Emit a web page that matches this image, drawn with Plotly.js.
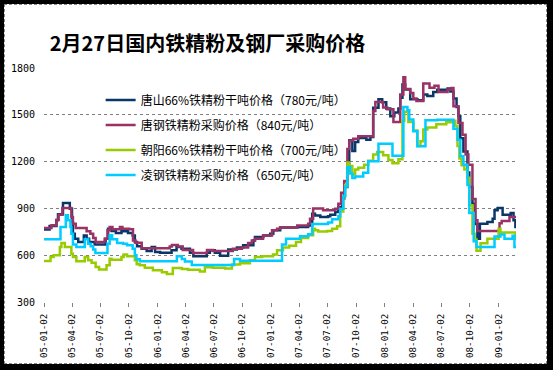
<!DOCTYPE html>
<html>
<head>
<meta charset="utf-8">
<script src="https://cdn.plot.ly/plotly-3.0.1.min.js"></script>
<style>
  html, body { margin: 0; padding: 0; background: #000; width: 553px; height: 370px; overflow: hidden; }
  #frame { position: absolute; left: 4px; top: 4px; width: 543px; height: 360px; background: #fff; border: 1px dashed #888; box-sizing: border-box; }
  #chart { position: absolute; left: 0; top: 0; width: 553px; height: 370px; }
</style>
</head>
<body>
<div id="frame"></div>
<div id="chart"></div>
<script>
// ---- data ----
const chartTitle = '2月27日国内铁精粉及钢厂采购价格';
const seriesNames = [
  '唐山66%铁精粉干吨价格（780元/吨）',
  '唐钢铁精粉采购价格（840元/吨）',
  '朝阳66%铁精粉干吨价格（700元/吨）',
  '凌钢铁精粉采购价格（650元/吨）'
];
const tickDates = ['2005-01-02','2005-04-02','2005-07-02','2005-10-02','2006-01-02','2006-04-02','2006-07-02','2006-10-02',
  '2007-01-02','2007-04-02','2007-07-02','2007-10-02','2008-01-02','2008-04-02','2008-07-02','2008-10-02','2009-01-02'];
const yTicks = [300, 600, 900, 1200, 1500, 1800];

const tangshanDates = ['2005-01-02','2005-01-20','2005-02-11','2005-02-16','2005-03-04','2005-03-26','2005-04-02','2005-04-05','2005-04-11','2005-04-22',
  '2005-05-10','2005-05-19','2005-05-27','2005-06-14','2005-07-19','2005-07-27','2005-08-07','2005-08-21','2005-09-08','2005-09-13',
  '2005-09-29','2005-10-14','2005-10-21','2005-10-28','2005-11-12','2005-11-28','2005-12-14','2005-12-25','2006-01-10','2006-02-16',
  '2006-03-04','2006-03-20','2006-04-16','2006-04-27','2006-06-09','2006-06-19','2006-07-05','2006-07-22','2006-08-17','2006-09-14',
  '2006-10-04','2006-11-06','2006-11-11','2006-12-08','2006-12-30','2007-01-09','2007-01-31','2007-03-27','2007-05-01','2007-05-14',
  '2007-05-23','2007-06-09','2007-07-04','2007-07-11','2007-07-27','2007-08-06','2007-08-19','2007-08-25','2007-09-04','2007-09-10',
  '2007-09-20','2007-09-29','2007-10-09','2007-11-04','2007-11-17','2007-11-26','2007-12-13','2007-12-25','2008-01-07','2008-01-20',
  '2008-02-02','2008-02-15','2008-02-21','2008-02-28','2008-03-08','2008-03-24','2008-04-16','2008-05-05','2008-05-18','2008-06-06',
  '2008-06-19','2008-07-22','2008-07-31','2008-08-10','2008-08-20','2008-08-26','2008-09-01','2008-09-11','2008-09-24','2008-09-30',
  '2008-10-10','2008-10-17','2008-10-26','2008-11-03','2008-11-27','2008-12-14','2008-12-20','2008-12-30','2009-01-15','2009-02-10',
  '2009-02-19','2009-02-25','2009-02-27'];
const tangshanVals = [764,787,824,862,935,898,813,738,706,685,
  727,706,685,668,706,770,755,742,760,753,
  742,727,685,657,642,627,653,620,616,631,
  653,642,616,594,616,631,616,597,636,650,
  663,695,717,727,738,760,777,781,791,866,
  855,845,850,860,877,909,963,1037,1187,1337,
  1268,1325,1352,1340,1358,1545,1600,1580,1540,1490,
  1515,1540,1610,1695,1662,1600,1593,1630,1621,1646,
  1660,1668,1650,1604,1550,1490,1350,1265,1130,1037,
  930,800,706,802,813,834,888,903,860,870,
  824,781,781];

const tanggangDates = ['2005-01-02','2005-01-26','2005-02-11','2005-02-18','2005-03-02','2005-03-31','2005-04-05','2005-04-14','2005-05-19','2005-05-31',
  '2005-06-09','2005-06-17','2005-07-16','2005-07-25','2005-08-01','2005-08-10','2005-09-03','2005-09-11','2005-10-03','2005-10-15',
  '2005-10-23','2005-11-12','2006-02-10','2006-02-17','2006-03-08','2006-03-24','2006-04-26','2006-06-10','2006-06-29','2006-09-01',
  '2006-09-30','2006-10-20','2006-11-01','2006-11-11','2006-12-07','2007-01-05','2007-01-21','2007-01-31','2007-03-27','2007-05-01',
  '2007-05-07','2007-05-17','2007-06-18','2007-07-27','2007-08-06','2007-08-15','2007-08-25','2007-09-04','2007-09-10','2007-09-23',
  '2007-10-09','2007-11-26','2007-12-03','2007-12-28','2008-01-10','2008-01-30','2008-02-21','2008-03-02','2008-03-08','2008-03-24',
  '2008-04-03','2008-04-13','2008-05-05','2008-05-25','2008-06-10','2008-06-23','2008-07-22','2008-08-04','2008-08-10','2008-08-26',
  '2008-09-08','2008-09-18','2008-09-27','2008-10-10','2008-10-20','2008-10-26','2009-01-05','2009-01-12','2009-02-06','2009-02-27'];
const tanggangVals = [774,792,828,860,903,845,802,774,753,738,
  710,685,706,760,781,766,781,770,766,695,
  680,645,655,665,655,634,614,634,627,641,
  650,678,695,706,727,760,770,777,791,802,
  834,900,888,898,930,1000,1075,1280,1335,1347,
  1362,1525,1582,1547,1535,1454,1630,1740,1665,1640,
  1604,1588,1700,1674,1686,1646,1662,1672,1555,1448,
  1372,1246,1180,960,824,755,805,820,845,840];

const chaoyangDates = ['2005-01-02','2005-01-23','2005-02-02','2005-02-22','2005-02-27','2005-03-10','2005-03-31','2005-04-05','2005-04-16','2005-05-13',
  '2005-05-24','2005-06-04','2005-06-17','2005-06-28','2005-07-22','2005-08-01','2005-08-07','2005-09-08','2005-09-15','2005-09-26',
  '2005-10-21','2005-10-27','2005-11-06','2005-11-22','2005-12-18','2006-01-16','2006-02-01','2006-02-20','2006-03-21','2006-04-10',
  '2006-05-18','2006-06-03','2006-06-29','2006-08-07','2006-08-29','2006-09-24','2006-10-26','2006-11-11','2006-12-04','2007-01-08',
  '2007-01-21','2007-02-09','2007-03-01','2007-03-23','2007-04-08','2007-05-01','2007-05-17','2007-05-23','2007-06-02','2007-07-01',
  '2007-07-17','2007-08-02','2007-08-12','2007-08-22','2007-08-28','2007-09-04','2007-09-10','2007-09-20','2007-09-29','2007-10-09',
  '2007-10-28','2007-11-10','2007-11-26','2007-12-09','2007-12-28','2008-01-14','2008-01-27','2008-02-15','2008-02-28','2008-03-05',
  '2008-03-18','2008-04-03','2008-04-16','2008-04-26','2008-05-05','2008-05-18','2008-06-16','2008-07-18','2008-08-07','2008-08-16',
  '2008-08-23','2008-08-29','2008-09-05','2008-09-14','2008-09-24','2008-09-30','2008-10-10','2008-10-17','2008-10-23','2008-11-05',
  '2008-11-27','2009-01-02','2009-01-08','2009-02-25','2009-02-27'];
const chaoyangVals = [563,589,599,653,678,653,610,589,561,589,
  567,552,524,509,535,578,571,589,605,593,
  567,542,535,520,503,490,480,518,512,506,
  496,522,520,514,540,548,567,589,593,605,
  631,650,660,685,710,728,770,760,752,755,
  770,785,880,980,1050,1195,1172,1118,1150,1160,
  1180,1205,1245,1262,1240,1210,1190,1215,1460,1520,
  1454,1400,1300,1330,1405,1418,1440,1452,1462,1428,
  1300,1220,1176,1150,1096,920,738,700,628,676,
  706,770,745,705,700];

const linggangDates = ['2005-01-02','2005-02-24','2005-03-13','2005-03-20','2005-03-28','2005-03-31','2005-04-05','2005-04-16','2005-05-13','2005-05-24',
  '2005-06-01','2005-06-09','2005-06-16','2005-07-25','2005-08-01','2005-08-09','2005-08-25','2005-09-13','2005-09-26','2005-10-14',
  '2005-10-21','2005-10-26','2005-11-06','2006-03-05','2006-03-21','2006-03-31','2006-04-22','2006-09-05','2006-09-24','2007-02-06',
  '2007-02-19','2007-04-05','2007-05-01','2007-05-14','2007-07-04','2007-07-17','2007-08-06','2007-08-12','2007-08-22','2007-08-28',
  '2007-09-04','2007-09-13','2007-09-20','2007-09-29','2007-10-25','2007-11-10','2007-12-13','2008-01-27','2008-03-02','2008-03-15',
  '2008-03-21','2008-04-03','2008-04-16','2008-05-12','2008-06-19','2008-08-10','2008-08-23','2008-09-01','2008-09-11','2008-09-24',
  '2008-09-30','2008-10-14','2008-10-23','2008-12-20','2009-01-08','2009-01-21','2009-02-16','2009-02-22','2009-02-27'];
const linggangVals = [702,781,856,824,781,738,668,653,702,674,
  657,636,614,674,728,702,678,674,663,642,
  599,574,561,594,575,560,537,576,564,668,
  706,722,735,800,810,830,850,898,980,1040,
  1166,1123,1095,1105,1128,1203,1315,1238,1550,1529,
  1470,1395,1299,1465,1468,1410,1340,1235,1180,1050,
  870,690,653,720,732,705,725,653,650];

const lineColors = ['#0b3768', '#993366', '#99cc00', '#00ccff'];

// ---- chart ----
const allDates = [tangshanDates, tanggangDates, chaoyangDates, linggangDates];
const allVals = [tangshanVals, tanggangVals, chaoyangVals, linggangVals];

const traces = allVals.map((vals, i) => ({
  type: 'scatter',
  mode: 'lines',
  x: allDates[i],
  y: vals,
  name: seriesNames[i],
  legendgroup: 'g' + i,
  line: { color: lineColors[i], width: 2.5, shape: 'hv' },
  hoverinfo: 'skip'
}));

const layout = {
  width: 553,
  height: 370,
  margin: { l: 44, r: 37, t: 68, b: 68, pad: 0 },
  paper_bgcolor: 'rgba(0,0,0,0)',
  plot_bgcolor: '#ffffff',
  showlegend: true,
  title: {
    text: chartTitle,
    font: { family: '"Noto Sans CJK SC", sans-serif', size: 20, color: '#000', weight: 'bold' },
    xref: 'container', x: 0.09, xanchor: 'left',
    yref: 'container', y: 1 - 44 / 370, yanchor: 'middle'
  },
  // white box behind the legend: hides the gridlines there, drawn under the lines
  shapes: [{
    type: 'rect', xref: 'paper', yref: 'paper', layer: 'between',
    x0: 0.133, x1: 0.645, y0: 0.52, y1: 0.93,
    fillcolor: '#ffffff', line: { width: 0 }
  }],
  legend: {
    x: 0.12, xanchor: 'left',
    y: 0.925, yanchor: 'top',
    bgcolor: 'rgba(0,0,0,0)',
    borderwidth: 0,
    traceorder: 'grouped',
    tracegroupgap: 6,
    font: { family: '"Noto Sans CJK SC", sans-serif', size: 12, color: '#000' }
  },
  xaxis: {
    type: 'date',
    range: ['2005-01-02', '2009-02-27'],
    tickvals: tickDates,
    tickformat: '%y-%m-%d',
    tickangle: -90,
    ticks: 'outside',
    ticklen: 4,
    tickcolor: '#808080',
    tickwidth: 1,
    ticklabelstandoff: 3,
    showgrid: false,
    showline: false,
    zeroline: false,
    tickfont: { family: '"DejaVu Sans Mono", monospace', size: 9.2, color: '#000' }
  },
  yaxis: {
    range: [300, 1800],
    tickvals: yTicks,
    ticks: '',
    showgrid: true,
    gridcolor: '#808080',
    gridwidth: 1,
    griddash: 'dot',
    showline: false,
    zeroline: false,
    ticklabelstandoff: 8,
    tickfont: { family: '"DejaVu Sans Mono", monospace', size: 10, color: '#000' }
  }
};

Plotly.newPlot('chart', traces, layout, { staticPlot: true, displayModeBar: false });
</script>
</body>
</html>
